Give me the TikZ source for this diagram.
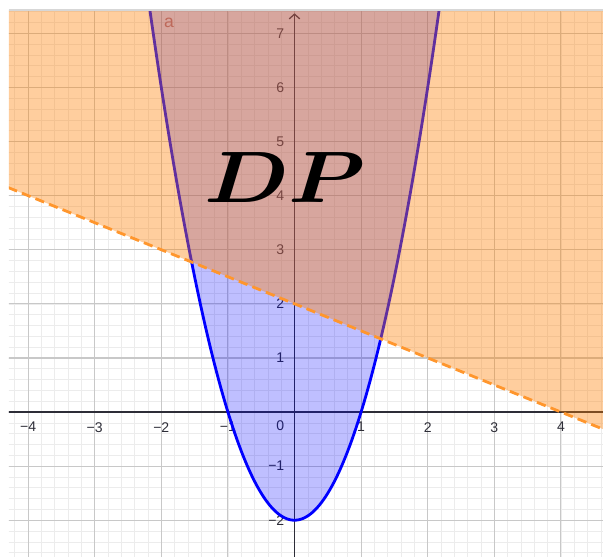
\documentclass[tikz,border=0pt]{standalone}
\usepackage{fontspec}
\newfontfamily\axisfont{Liberation Sans}
\usetikzlibrary{arrows.meta}
\definecolor{GridMajor}{RGB}{200,200,200}
\definecolor{GridMinor}{RGB}{236,236,236}
\definecolor{AxisGray}{RGB}{45,45,55}
\definecolor{Region}{RGB}{255,127,0}
\definecolor{Curve}{RGB}{0,0,255}
\definecolor{Border}{RGB}{255,150,45}
\definecolor{Frame}{RGB}{215,215,215}
\definecolor{LabelA}{RGB}{190,105,90}

\begin{document}
\begin{tikzpicture}[x=2cm, y=1.6246cm, >=Latex,
  tick/.style={font=\axisfont\fontsize{12}{12}\selectfont, text=AxisGray, inner sep=0pt},
  curve/.style={Curve, line width=2.4pt, domain=-2.25:2.25, samples=150},
  border/.style={Border, line width=2.4pt, dash pattern=on 8pt off 4.5pt}]
  \useasboundingbox (-4.422,-2.662) rectangle (4.632,7.616);
  \coordinate (bl) at (-4.5,4.25);
  \coordinate (br) at (4.8,-0.4);
  \begin{scope}
    \clip (-4.287,-2.662) rectangle (4.632,7.43);
    % grid
    \draw[GridMinor, line width=0.55pt, step=0.2] (-4.4,-2.8) grid (4.8,7.6);
    \draw[GridMajor, line width=1pt, step=1] (-4.4,-2.8) grid (4.8,7.6);
    % axes
    \draw[AxisGray, line width=1.1pt] (-4.4,0) -- (4.8,0);
    \draw[AxisGray, line width=1.1pt, -{Straight Barb[length=4pt,width=9pt]}] (0,-2.8) -- (0,7.37);
    \foreach \x/\t [count=\i] in {-4/−4,-3/−3,-2/−2,-1/−1,1/1,2/2,3/3,4/4}
      \node[tick] (xt\i) at (\x,-0.28) {\t};
    \foreach \y/\t [count=\i] in {-2/−2,-1/−1,1/1,2/2,3/3,4/4,5/5,6/6,7/7}
      \node[tick, anchor=east] (yt\i) at (-0.15,\y) {\t};
    \node[tick, anchor=east] (origin) at (-0.15,-0.25) {0};
    % parabola region
    \fill[Curve, opacity=0.25] plot[domain=-2.25:2.25, samples=150] (\x,{2*\x*\x-2}) -- cycle;
    \draw[curve] plot (\x,{2*\x*\x-2});
    % half plane above the line
    \fill[Region, opacity=0.38] (bl) -- (br) -- (4.8,7.6) -- (-4.5,7.6) -- cycle;
    \draw[border] (bl) -- (br);
  \end{scope}
  \draw[Frame, line width=1.2pt] (-4.287,7.43) -- (4.632,7.43);
  \node[text=LabelA, font=\axisfont\fontsize{15}{15}\selectfont, inner sep=0pt] (alab) at (-1.884,7.2) {a};
  \node[font=\huge\boldmath, scale=3, xscale=1.2, anchor=base, inner sep=0pt] (dp) at (-0.14,3.88) {$DP$};
\end{tikzpicture}
\end{document}
